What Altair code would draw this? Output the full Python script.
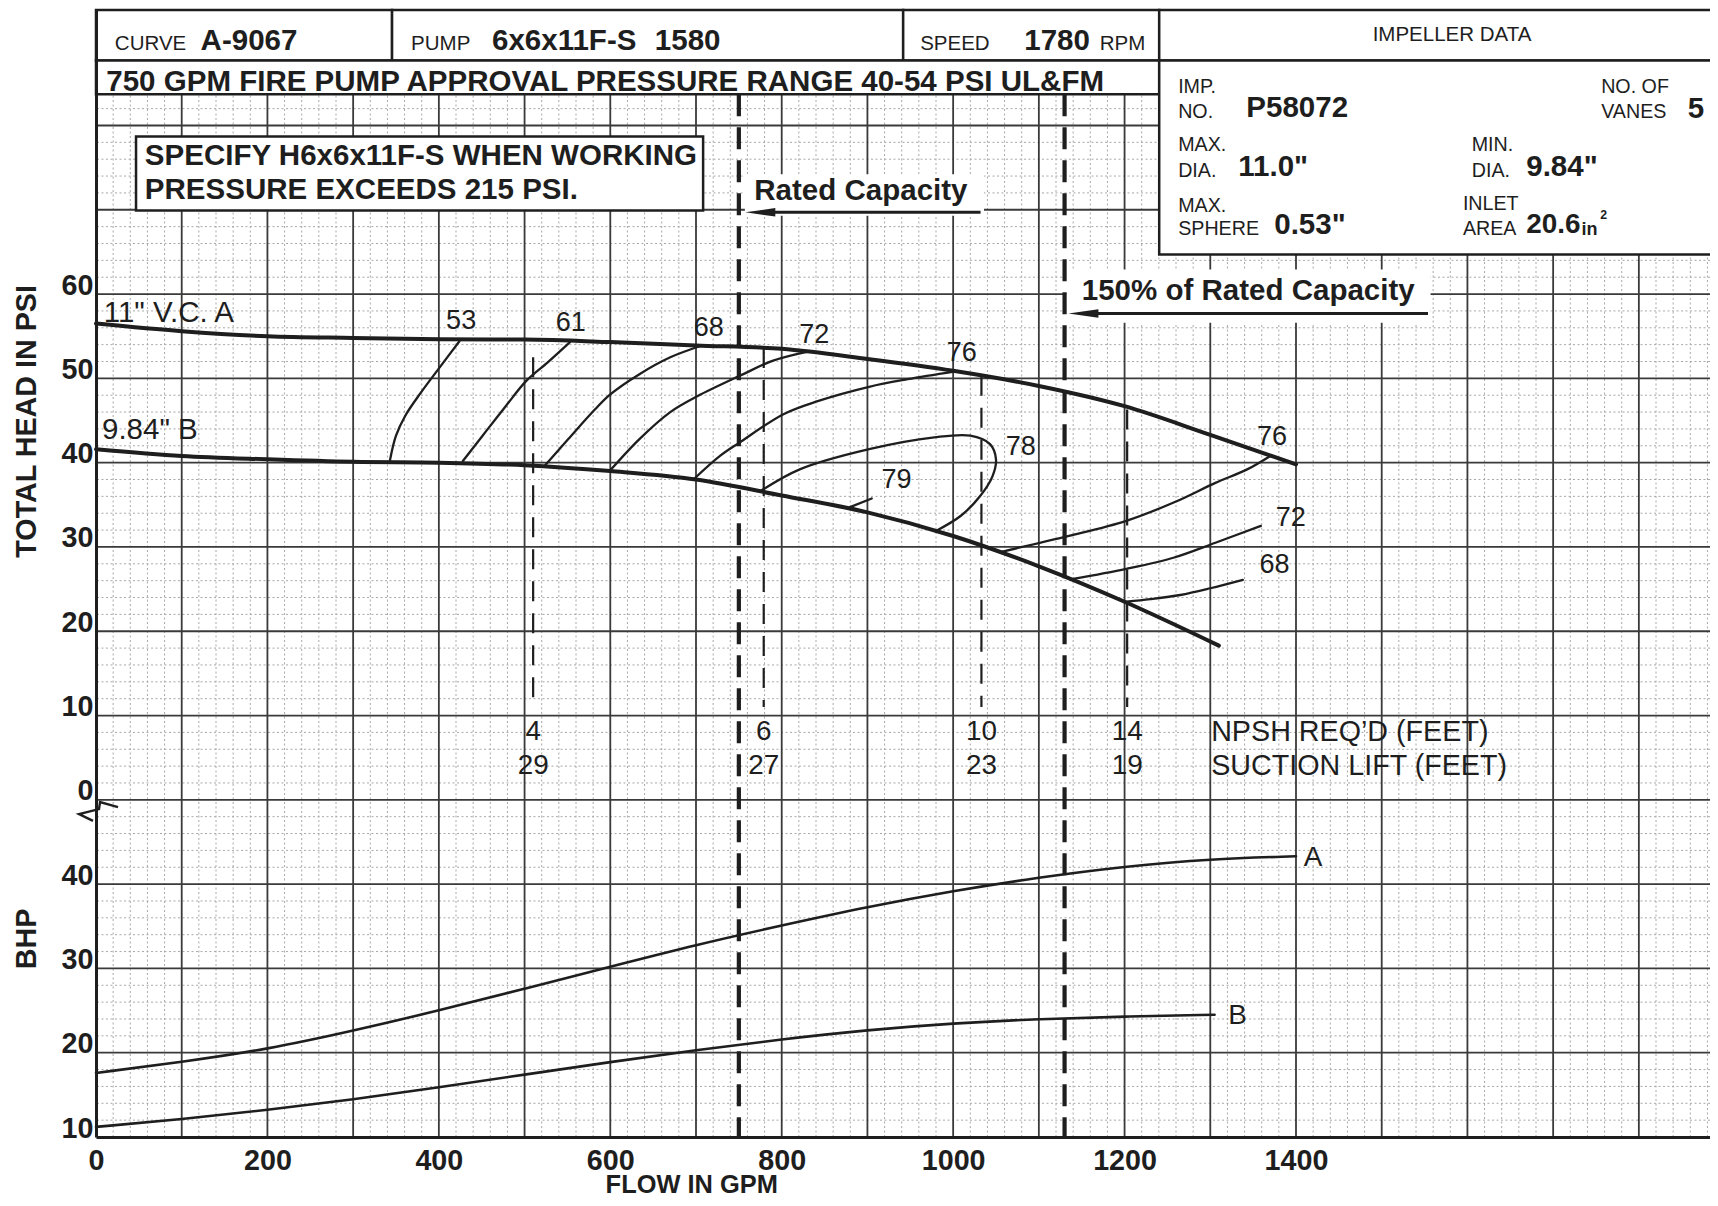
import os, glob, subprocess
import altair as alt
import pandas as pd

# ---------------- data ----------------
FLOW_A = [0, 100, 200, 300, 400, 500, 600, 700, 800, 900, 1000, 1100, 1200, 1300, 1400]
HEAD_A = [56.5, 55.6, 55.0, 54.8, 54.65, 54.6, 54.3, 53.9, 53.5, 52.3, 50.9, 49.1, 46.7, 43.3, 39.8]
FLOW_B = [0, 100, 200, 300, 400, 500, 600, 700, 800, 900, 1000, 1100, 1200, 1310]
HEAD_B = [41.6, 40.8, 40.4, 40.1, 40.0, 39.7, 39.0, 38.0, 36.1, 34.1, 31.3, 27.7, 23.5, 18.3]

FLOW_BHP_A = [0, 100, 200, 300, 400, 500, 600, 700, 800, 900, 1000, 1100, 1200, 1300, 1400]
BHP_A = [17.6, 18.9, 20.4, 22.6, 25.0, 27.6, 30.2, 32.8, 35.1, 37.3, 39.2, 40.8, 42.1, 43.0, 43.3]
FLOW_BHP_B = [0, 100, 200, 300, 400, 500, 600, 700, 800, 900, 1000, 1100, 1200, 1305]
BHP_B = [11.2, 12.1, 13.2, 14.45, 15.9, 17.4, 18.9, 20.3, 21.6, 22.7, 23.5, 24.0, 24.3, 24.5]
BHP_SHIFT = 50  # BHP panel: BHP 50 sits on head 0 (broken axis)

# iso-efficiency curves (flow, head)
EFF53_G = [343, 350, 361, 379, 401, 424]
EFF53_V = [40.3, 43.2, 45.6, 48.3, 51.3, 54.4]
EFF61_G = [428, 451, 478, 502, 527, 553]
EFF61_V = [40.2, 43.2, 46.7, 49.7, 51.9, 54.3]
EFF68_G = [524, 551, 582, 600, 634, 670, 707]
EFF68_V = [39.7, 42.8, 46.3, 48.1, 50.5, 52.5, 53.9]
EFF72_G = [600, 634, 670, 702, 751, 790, 832]
EFF72_V = [39.1, 42.8, 46.0, 47.9, 50.3, 52.1, 53.2]
EFF76_G = [697, 728, 751, 802, 842, 902, 947, 1001]
EFF76_V = [38.0, 40.8, 42.4, 45.75, 47.3, 49.0, 49.9, 50.8]
EFF78_G = [775, 821, 902, 978, 1020, 1043, 1050, 1046, 1032, 1009, 980]
EFF78_V = [36.6, 39.2, 41.6, 43.0, 43.2, 42.2, 40.4, 38.4, 36.1, 33.7, 31.9]
EFF79_G = [879, 905]
EFF79_V = [34.7, 35.75]
EFF76R_G = [1055, 1135, 1202, 1258, 1306, 1343, 1370]
EFF76R_V = [29.4, 31.3, 33.1, 35.3, 37.6, 39.2, 40.8]
EFF72R_G = [1140, 1202, 1258, 1306, 1359]
EFF72R_V = [26.2, 27.4, 28.75, 30.5, 32.5]
EFF68R_G = [1202, 1230, 1265, 1300, 1338]
EFF68R_V = [23.5, 23.8, 24.3, 25.1, 26.1]

EFF_LABELS = ["53", "61", "68", "72", "76", "78", "79", "76", "72", "68"]
EFF_LABEL_G = [426, 554, 715, 838, 1010, 1079, 934, 1372, 1394, 1375]
EFF_LABEL_V = [56.8, 56.6, 56.0, 55.2, 53.0, 41.8, 38.0, 43.0, 33.4, 27.8]

RATED_GPM = 750
PCT150_GPM = 1130
NPSH_GPM = [510, 779, 1033, 1203]
NPSH_TOP = [52.5, 53.6, 50.3, 46.3]
NPSH_BOTTOM = 11
NPSH_FEET = ["4", "6", "10", "14"]
LIFT_FEET = ["29", "27", "23", "19"]

X_TICKS = [0, 200, 400, 600, 800, 1000, 1200, 1400]
Y_TICKS = [-40, -30, -20, -10, 0, 10, 20, 30, 40, 50, 60]

BREAK_G = [25.7, 4.7, 3.5, -19.8, -3.5]
BREAK_V = [-0.87, -0.27, -1.1, -1.69, -2.5]

# ---------------- fonts ----------------
def has_font(name, pattern):
    try:
        out = subprocess.run(["fc-list"], capture_output=True, text=True, timeout=10).stdout
        if name in out:
            return True
    except Exception:
        pass
    for d in ["/usr/share/fonts", "/usr/local/share/fonts", os.path.expanduser("~/.fonts")]:
        if glob.glob(os.path.join(d, "**", pattern), recursive=True):
            return True
    return False

if has_font("Liberation Sans Narrow", "LiberationSansNarrow*"):
    FONT, K = "Liberation Sans Narrow", 1.0
else:
    FONT, K = "Liberation Sans", 0.82

INK = "#1e1e1e"
XMAX, YMIN, YMAX = 1883, -40, 93.7
XS = alt.Scale(domain=[0, XMAX], nice=False, zero=False)
YS = alt.Scale(domain=[YMIN, YMAX], nice=False, zero=False)

X_AXIS = alt.Axis(values=X_TICKS, title=None, grid=False, ticks=False, tickSize=0,
                  domain=True, domainColor=INK, domainWidth=3, labelFont=FONT,
                  labelFontSize=35 * K, labelFontWeight="bold", labelColor=INK,
                  labelPadding=32, labelBaseline="alphabetic", labelFlush=False,
                  labelOverlap=False, labelAngle=0, format="d", zindex=1)
Y_AXIS = alt.Axis(values=Y_TICKS, title=None, grid=False, ticks=False, tickSize=0,
                  domain=True, domainColor=INK, domainWidth=3, labelFont=FONT,
                  labelFontSize=35 * K, labelFontWeight="bold", labelColor=INK,
                  labelPadding=3, labelAlign="right", labelBaseline="alphabetic",
                  labelFlush=False, labelOverlap=False,
                  labelExpr="datum.value < 0 ? format(datum.value + 50, 'd') : datum.label",
                  zindex=1)


def xe(f="g"):
    return alt.X(f"{f}:Q", scale=XS, axis=X_AXIS)


def ye(f="v"):
    return alt.Y(f"{f}:Q", scale=YS, axis=Y_AXIS)


layers = []

# ---------------- axes holder ----------------
axes_df = pd.DataFrame({"g": [0, XMAX], "v": [YMIN, YMAX]})
layers.append(alt.Chart(axes_df).mark_point(opacity=0).encode(x=xe(), y=ye()))

# ---------------- grid ----------------
minor_x = [g for g in range(0, XMAX + 1, 20) if g % 100 != 0]
minor_y = [v for v in range(-40, 94, 2) if v % 10 != 0]
major_x = list(range(100, XMAX + 1, 100))
major_y = list(range(-30, 94, 10))
layers.append(alt.Chart(pd.DataFrame({"g": minor_x})).mark_rule(
    color="#a8a8a8", strokeWidth=1, strokeDash=[2, 2.5]).encode(x=xe()))
layers.append(alt.Chart(pd.DataFrame({"v": minor_y})).mark_rule(
    color="#a8a8a8", strokeWidth=1, strokeDash=[2, 2.5]).encode(y=ye()))
layers.append(alt.Chart(pd.DataFrame({"g": major_x})).mark_rule(
    color="#3a3a3a", strokeWidth=1.8).encode(x=xe()))
layers.append(alt.Chart(pd.DataFrame({"v": major_y})).mark_rule(
    color="#3a3a3a", strokeWidth=1.8).encode(y=ye()))

# ---------------- white annotation boxes ----------------
def rect_layer(x1, x2, y1, y2, stroke=None, sw=0):
    df = pd.DataFrame({"x1": x1, "x2": x2, "y1": y1, "y2": y2})
    kw = dict(fill="white")
    if stroke:
        kw.update(stroke=stroke, strokeWidth=sw)
    return alt.Chart(df).mark_rect(**kw).encode(
        x=xe("x1"), x2="x2:Q", y=ye("y1"), y2="y2:Q")

layers.append(rect_layer([757, 1132], [1036, 1557], [69.3, 56.6], [74.2, 62.9]))
layers.append(rect_layer([46.7], [708.3], [69.9], [78.7], stroke=INK, sw=2.5))

# ---------------- dashed reference lines ----------------
heavy = pd.DataFrame({"g": [RATED_GPM, PCT150_GPM], "v": [83.7, 83.7], "v2": [YMIN, YMIN]})
layers.append(alt.Chart(heavy).mark_rule(color=INK, strokeWidth=4.2, strokeDash=[22, 11]).encode(
    x=xe(), y=ye(), y2="v2:Q"))
npsh = pd.DataFrame({"g": NPSH_GPM, "v": NPSH_TOP, "v2": [NPSH_BOTTOM] * len(NPSH_GPM)})
layers.append(alt.Chart(npsh).mark_rule(color=INK, strokeWidth=2.2, strokeDash=[20, 12]).encode(
    x=xe(), y=ye(), y2="v2:Q"))

# arrows
arrows = pd.DataFrame({"g": [775, 1152], "g2": [1032, 1554], "v": [69.7, 57.7]})
layers.append(alt.Chart(arrows).mark_rule(color=INK, strokeWidth=3).encode(
    x=xe(), x2="g2:Q", y=ye()))
ARROW_SHAPE = "M-1,0L1,-0.28L1,0.28Z"
layers.append(alt.Chart(arrows).mark_point(shape=ARROW_SHAPE, filled=True, size=900,
                                           color=INK, opacity=1).encode(x=xe(), y=ye()))

# ---------------- curves ----------------
def curve_df(gs, vs, name):
    return pd.DataFrame({"g": gs, "v": vs, "c": name, "i": range(len(gs))})

head_df = pd.concat([curve_df(FLOW_A, HEAD_A, "A"), curve_df(FLOW_B, HEAD_B, "B")])
layers.append(alt.Chart(head_df).mark_line(color=INK, strokeWidth=4, interpolate="monotone",
                                           strokeCap="round").encode(
    x=xe(), y=ye(), detail="c:N", order="i:Q"))

bhp_df = pd.concat([
    curve_df(FLOW_BHP_A, [b - BHP_SHIFT for b in BHP_A], "A"),
    curve_df(FLOW_BHP_B, [b - BHP_SHIFT for b in BHP_B], "B")])
layers.append(alt.Chart(bhp_df).mark_line(color=INK, strokeWidth=2.6, interpolate="basis",
                                          strokeCap="round").encode(
    x=xe(), y=ye(), detail="c:N", order="i:Q"))

eff_df = pd.concat([
    curve_df(EFF53_G, EFF53_V, "e53"), curve_df(EFF61_G, EFF61_V, "e61"),
    curve_df(EFF68_G, EFF68_V, "e68"), curve_df(EFF72_G, EFF72_V, "e72"),
    curve_df(EFF76_G, EFF76_V, "e76"), curve_df(EFF78_G, EFF78_V, "e78"),
    curve_df(EFF79_G, EFF79_V, "e79"), curve_df(EFF76R_G, EFF76R_V, "e76r"),
    curve_df(EFF72R_G, EFF72R_V, "e72r"), curve_df(EFF68R_G, EFF68R_V, "e68r")])
layers.append(alt.Chart(eff_df).mark_line(color=INK, strokeWidth=2.3, interpolate="catmull-rom",
                                          strokeCap="round").encode(
    x=xe(), y=ye(), detail="c:N", order="i:Q"))

# axis break symbol
layers.append(alt.Chart(curve_df(BREAK_G, BREAK_V, "brk")).mark_line(
    color=INK, strokeWidth=2.4, clip=False).encode(x=xe(), y=ye(), order="i:Q"))

# ---------------- texts ----------------
def text_layer(items, size, weight="normal", align="left", baseline="middle", angle=0):
    df = pd.DataFrame(items, columns=["t", "g", "v"])
    kw = dict(font=FONT, fontSize=size * K, fontWeight=weight, align=align,
              baseline=baseline, color=INK)
    if angle:
        kw["angle"] = angle
    return alt.Chart(df).mark_text(**kw).encode(x=xe(), y=ye(), text="t:N")

# efficiency labels
layers.append(text_layer(list(zip(EFF_LABELS, EFF_LABEL_G, EFF_LABEL_V)), 33, align="center"))
# NPSH labels
layers.append(text_layer(list(zip(NPSH_FEET, NPSH_GPM, [8.0] * 4)) +
                         list(zip(LIFT_FEET, NPSH_GPM, [4.0] * 4)), 34, align="center"))
layers.append(text_layer([("NPSH REQ\u2019D (FEET)", 1301, 8.0),
                          ("SUCTION LIFT (FEET)", 1301, 4.0)], 35))
# curve labels
layers.append(text_layer([('11" V.C. A', 9, 57.8), ('9.84" B', 7, 43.9)], 36))
layers.append(text_layer([("A", 1409, -6.9), ("B", 1321, -25.7)], 34))
# boxes text
layers.append(text_layer([("SPECIFY H6x6x11F-S WHEN WORKING", 57, 76.4),
                          ("PRESSURE EXCEEDS 215 PSI.", 57, 72.3),
                          ("Rated Capacity", 768, 72.2),
                          ("150% of Rated Capacity", 1150, 60.4)], 36, weight="bold"))
# axis titles
layers.append(text_layer([("TOTAL HEAD IN PSI", -80, 44.9), ("BHP", -80, -16.5)], 35,
                         weight="bold", align="center", angle=270))
layers.append(text_layer([("FLOW IN GPM", 695, -46.6)], 31, weight="bold", align="center",
                         baseline="alphabetic"))

# ---------------- header block ----------------
layers.append(rect_layer([0, 345.4, 941.7, 0, 1240.4, 1240.4],
                         [345.4, 941.7, 1240.4, 1240.4, 1900, 1900],
                         [87.7, 87.7, 87.7, 83.7, 87.7, 64.7],
                         [YMAX, YMAX, YMAX, 87.7, YMAX, 87.7], stroke=INK, sw=2.5))

layers.append(text_layer([("CURVE", 22, 88.9), ("PUMP", 367.6, 88.9), ("SPEED", 961.5, 88.9),
                          ("RPM", 1171, 88.9)], 25, baseline="alphabetic"))
layers.append(text_layer([("A-9067", 122, 88.9), ("6x6x11F-S", 462, 88.9), ("1580", 652, 88.9),
                          ("1780", 1083, 88.9),
                          ("750 GPM FIRE PUMP APPROVAL PRESSURE RANGE 40-54 PSI UL&FM", 12, 84.1)],
                         36, weight="bold", baseline="alphabetic"))
layers.append(text_layer([("IMPELLER DATA", 1582, 90.7)], 25, align="center"))
layers.append(text_layer([("IMP.", 1262.5, 84.6), ("NO.", 1262.5, 81.6),
                          ("NO. OF", 1756, 84.6), ("VANES", 1756, 81.6),
                          ("MAX.", 1262.5, 77.7), ("DIA.", 1262.5, 74.6),
                          ("MIN.", 1605, 77.7), ("DIA.", 1605, 74.6),
                          ("MAX.", 1262.5, 70.5), ("SPHERE", 1262.5, 67.7),
                          ("INLET", 1594.7, 70.7), ("AREA", 1594.7, 67.7)], 24))
layers.append(text_layer([("P58072", 1342, 82.1), ("5", 1857, 82.0),
                          ('11.0"', 1332.6, 75.1), ('9.84"', 1668.6, 75.1),
                          ('0.53"', 1374.6, 68.2)], 36, weight="bold"))
layers.append(text_layer([("20.6", 1668.6, 68.2)], 34, weight="bold"))
layers.append(text_layer([("in", 1733, 67.6)], 22, weight="bold"))
layers.append(text_layer([("2", 1755, 69.4)], 15, weight="bold"))

chart = alt.layer(*layers).properties(
    width=1614, height=1127,
    padding={"left": 88, "right": 0, "top": 2, "bottom": 60},
    autosize=alt.AutoSizeParams(type="none"),
    background="white",
).configure_view(stroke=None)

chart.save("out.html", embed_options={"renderer": "svg", "actions": False})
